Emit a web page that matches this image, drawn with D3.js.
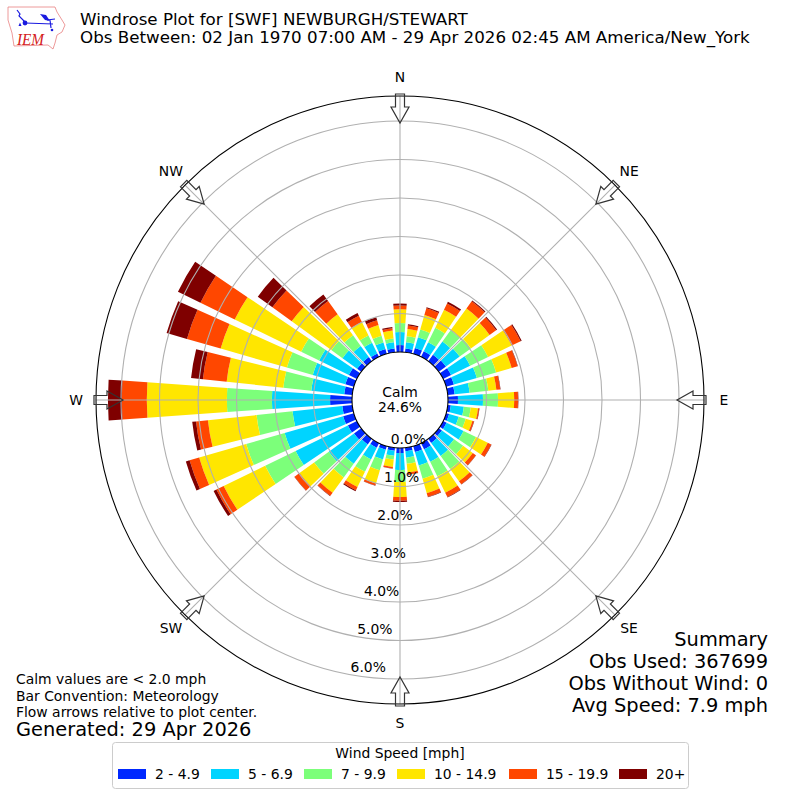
<!DOCTYPE html>
<html>
<head>
<meta charset="utf-8">
<script src="https://cdn.jsdelivr.net/npm/d3@7"></script>
<style>
  html, body { margin: 0; padding: 0; background: #fff; }
  svg { display: block; font-family: "DejaVu Sans", sans-serif; }
</style>
</head>
<body>
<div id="chart"></div>
<script>
// percent of observations per 10 degree direction bin, 0 = north, clockwise
const directions = d3.range(0, 360, 10);
const speedClasses = ["2 - 4.9", "5 - 6.9", "7 - 9.9", "10 - 14.9", "15 - 19.9", "20+"];
const speedColors = ["#0028ff", "#00d4ff", "#7cff7a", "#ffe600", "#ff4700", "#7f0000"];

const s2to5 = [.18,.10,.16,.16,.21,.23,.23,.21,.18,.26,.08,.08,.10,.10,.13,.18,.16,.09,
               .13,.08,.10,.13,.18,.23,.26,.29,.26,.57,.21,.23,.23,.13,.13,.10,.13,.10];
const s5to7 = [.34,.16,.29,.26,.42,.44,.55,.62,.39,.65,.34,.26,.49,.39,.42,.36,.36,.17,
               .44,.13,.26,.34,.62,.81,1.51,1.58,1.30,1.51,.86,.88,.86,.47,.36,.31,.18,.16];
const s7to10 = [.23,.16,.21,.42,.36,.36,.52,.52,.49,.39,.18,.19,.36,.29,.42,.42,.36,.16,
                .31,.10,.29,.36,.44,.47,.88,1.04,.94,1.17,.73,.70,.52,.36,.34,.21,.18,.10];
const s10to15 = [.36,.19,.39,.52,.70,.60,.68,.42,.21,.42,.19,.18,.34,.31,.39,.47,.39,.23,
                 .39,.19,.36,.44,.49,.47,1.20,1.27,1.27,2.08,1.48,1.79,1.92,1.27,.68,.39,.29,.21];
const s15to20 = [.10,.09,.18,.18,.23,.21,.26,.16,.10,.10,.03,.04,.10,.10,.10,.13,.10,.05,
                 .10,.04,.05,.09,.10,.16,.21,.26,.31,.65,.62,.91,.99,.62,.42,.18,.13,.06];
const s20plus = [.05,.03,.03,.05,.03,.03,.03,.01,.01,.01,.01,.01,.01,.01,.01,.01,.01,.01,
                 .03,.01,.01,.03,.01,.01,.08,.10,.10,.36,.31,.55,.65,.47,.21,.08,.08,.03];
const speedSeries = [s2to5, s5to7, s7to10, s10to15, s15to20, s20plus];

const rTicks = [0, 1, 2, 3, 4, 5, 6];
const compass = [["N", 0], ["NE", 45], ["E", 90], ["SE", 135], ["S", 180], ["SW", 225], ["W", 270], ["NW", 315]];

const titleLines = [
  "Windrose Plot for [SWF] NEWBURGH/STEWART",
  "Obs Between: 02 Jan 1970 07:00 AM - 29 Apr 2026 02:45 AM America/New_York",
];
const noteLines = ["Calm values are < 2.0 mph", "Bar Convention: Meteorology", "Flow arrows relative to plot center."];
const summaryLines = ["Summary", "Obs Used: 367699", "Obs Without Wind: 0", "Avg Speed: 7.9 mph"];

const width = 800;
const height = 800;
const cx = 400;
const cy = 400;
const outerR = 304;
const innerR = 48;
const rMax = (outerR - innerR) / 38.5;
const barWidth = 8; // degrees
const rad = Math.PI / 180;

const svg = d3.select("#chart").append("svg").attr("width", width).attr("height", height);

const r = d3.scaleLinear().domain([0, rMax]).range([innerR, outerR]);

const rows = directions.map((d, i) => {
  const row = { dir: d };
  speedClasses.forEach((c, j) => (row[c] = speedSeries[j][i]));
  return row;
});
const stacked = d3.stack().keys(speedClasses)(rows);

const plot = svg.append("g").attr("transform", `translate(${cx},${cy})`);

// bars
const arc = d3.arc();
plot
  .selectAll("g.layer")
  .data(stacked)
  .join("g")
  .attr("class", "layer")
  .attr("fill", (d, i) => speedColors[i])
  .selectAll("path")
  .data((d) => d)
  .join("path")
  .attr("d", (d) =>
    arc({
      innerRadius: r(d[0]),
      outerRadius: r(d[1]),
      startAngle: (d.data.dir - barWidth / 2) * rad,
      endAngle: (d.data.dir + barWidth / 2) * rad,
    })
  );

// grid on top of the bars
plot
  .append("g")
  .selectAll("circle")
  .data(rTicks.slice(1))
  .join("circle")
  .attr("r", (d) => r(d))
  .attr("fill", "none")
  .attr("stroke", "#b0b0b0")
  .attr("stroke-width", 1.1);

plot
  .append("g")
  .selectAll("line")
  .data(compass)
  .join("line")
  .attr("x1", (d) => innerR * Math.sin(d[1] * rad))
  .attr("y1", (d) => -innerR * Math.cos(d[1] * rad))
  .attr("x2", (d) => outerR * Math.sin(d[1] * rad))
  .attr("y2", (d) => -outerR * Math.cos(d[1] * rad))
  .attr("stroke", "#b0b0b0")
  .attr("stroke-width", 1.1);

plot.append("circle").attr("r", innerR).attr("fill", "#fff").attr("stroke", "#000").attr("stroke-width", 1.1);
plot.append("circle").attr("r", outerR).attr("fill", "none").attr("stroke", "#000").attr("stroke-width", 1.1);

// flow arrows, pointing at the center
plot
  .append("g")
  .selectAll("path")
  .data(compass)
  .join("path")
  .attr("transform", (d) => `rotate(${d[1]})`)
  .attr("d", "M-4.5,-306 L4.5,-306 L4.5,-293 L9,-293 L0,-277 L-9,-293 L-4.5,-293 Z")
  .attr("fill", "none")
  .attr("stroke", "#333")
  .attr("stroke-width", 1.2);

// direction labels
plot
  .append("g")
  .selectAll("text")
  .data(compass)
  .join("text")
  .attr("x", (d) => 324 * Math.sin(d[1] * rad))
  .attr("y", (d) => -323 * Math.cos(d[1] * rad) + 4.5)
  .attr("text-anchor", "middle")
  .attr("font-size", 13.9)
  .text((d) => d[0]);

// radial labels run along bearing 190
plot
  .append("g")
  .selectAll("text")
  .data(rTicks)
  .join("text")
  .attr("x", (d) => r(d) * Math.sin(190 * rad) - 1)
  .attr("y", (d) => -r(d) * Math.cos(190 * rad) - 3)
  .attr("font-size", 13.9)
  .text((d) => d.toFixed(1) + "%");

const calm = plot.append("g").attr("text-anchor", "middle").attr("font-size", 13.9);
calm.append("text").attr("y", -3).text("Calm");
calm.append("text").attr("y", 12).text("24.6%");

// header
svg
  .append("g")
  .attr("font-size", 16.7)
  .selectAll("text")
  .data(titleLines)
  .join("text")
  .attr("x", 80)
  .attr("y", (d, i) => 25 + i * 18)
  .text((d) => d);

// logo
const logo = svg.append("g");
logo
  .append("path")
  .attr("d", "M8,7 L55,7 L57,12 L62,20 L65,25 L62,32 L57,35 L55,43 L53,49 L48,45 L14,46 L12,33 L8,20 Z")
  .attr("fill", "#fff")
  .attr("stroke", "#e88080")
  .attr("stroke-width", 0.8);
logo
  .append("path")
  .attr("d", "M25,23 L53,24 M17,10 L20,14 L19,16 L25,22 M47,20 L55,19 M50,20 L51,28")
  .attr("fill", "none")
  .attr("stroke", "#1a1ae0")
  .attr("stroke-width", 1.2);
logo.append("path").attr("d", "M40,14 L46,15 L50,21 L45,20 Z").attr("fill", "#1a1ae0");
logo.append("path").attr("d", "M18.5,26 L20,22.5 L21.5,26 Z").attr("fill", "#1a1ae0");
logo.append("circle").attr("cx", 25).attr("cy", 23).attr("r", 2.4).attr("fill", "#1a1ae0");
logo.append("circle").attr("cx", 52).attr("cy", 30).attr("r", 1.3).attr("fill", "#1a1ae0");
logo
  .append("text")
  .attr("x", 17)
  .attr("y", 44.5)
  .attr("font-family", "Liberation Serif")
  .attr("font-style", "italic")
  .attr("font-size", 17.5)
  .attr("textLength", 27)
  .attr("lengthAdjust", "spacingAndGlyphs")
  .attr("fill", "#d42020")
  .text("IEM");

// notes
svg
  .append("g")
  .attr("font-size", 13.9)
  .selectAll("text")
  .data(noteLines)
  .join("text")
  .attr("x", 16)
  .attr("y", (d, i) => 684 + i * 16.5)
  .text((d) => d);
svg.append("text").attr("x", 16).attr("y", 736).attr("font-size", 19.4).text("Generated: 29 Apr 2026");

svg
  .append("g")
  .attr("font-size", 19.4)
  .attr("text-anchor", "end")
  .selectAll("text")
  .data(summaryLines)
  .join("text")
  .attr("x", 768)
  .attr("y", (d, i) => 646 + i * 22)
  .text((d) => d);

// legend
const legend = svg.append("g");
legend
  .append("rect")
  .attr("x", 112.5)
  .attr("y", 742.5)
  .attr("width", 576)
  .attr("height", 46)
  .attr("rx", 3)
  .attr("fill", "#fff")
  .attr("stroke", "#ccc");
legend
  .append("text")
  .attr("x", 400)
  .attr("y", 758)
  .attr("text-anchor", "middle")
  .attr("font-size", 13.9)
  .text("Wind Speed [mph]");

const legendX = d3.scaleOrdinal().domain(speedClasses).range([118, 211, 304, 397, 509, 619]);
const items = legend
  .selectAll("g.item")
  .data(speedClasses)
  .join("g")
  .attr("class", "item")
  .attr("transform", (d) => `translate(${legendX(d)},769)`);
items.append("rect").attr("width", 28).attr("height", 10).attr("fill", (d, i) => speedColors[i]);
items
  .append("text")
  .attr("x", 37)
  .attr("y", 10)
  .attr("font-size", 13.9)
  .text((d) => d);
</script>
</body>
</html>
